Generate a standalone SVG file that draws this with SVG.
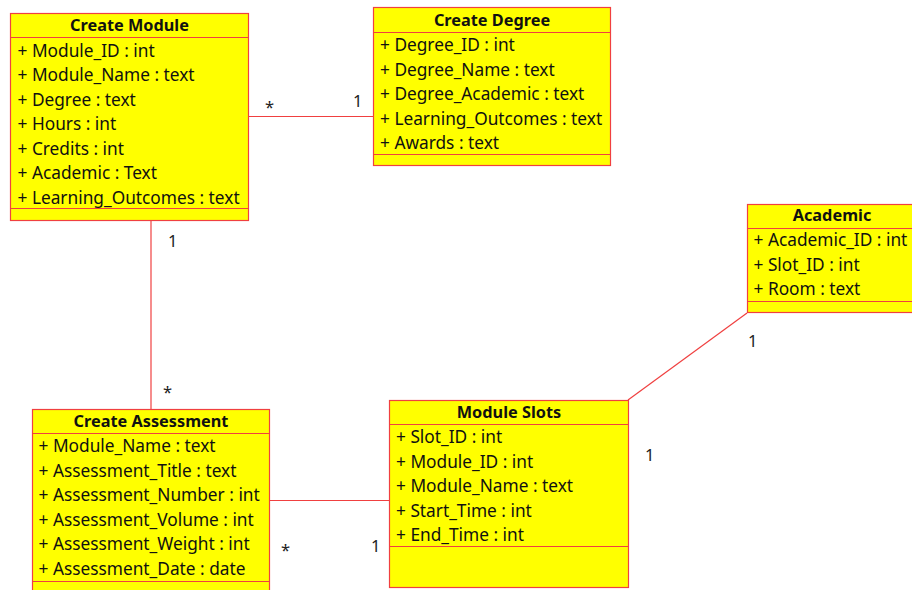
<svg xmlns="http://www.w3.org/2000/svg" width="912" height="590" viewBox="0 0 912 590">
<style>
.box{fill:#ffff00;stroke:#f04040;stroke-width:1.2}
.sep{stroke:#f04040;stroke-width:1.2}
.t{font-family:"Noto Sans","Open Sans",sans-serif;font-size:17.3px;fill:#111}
.h{font-family:"Noto Sans","Open Sans",sans-serif;font-size:16.3px;font-weight:bold;fill:#111;text-anchor:middle}
.c{stroke:#f04040;stroke-width:1.2;fill:none}
.m{font-family:"Noto Sans","Open Sans",sans-serif;font-size:16.5px;fill:#222}
</style>
<rect width="912" height="590" fill="#fff"/>
<g id="connectors">
<line class="c" x1="248" y1="116.5" x2="373" y2="116.5"/>
<line class="c" x1="151" y1="220" x2="151" y2="409"/>
<line class="c" x1="269" y1="500.5" x2="389" y2="500.5"/>
<line class="c" x1="628" y1="400" x2="747" y2="313"/>
<text class="m" x="265" y="113">*</text>
<text class="m" x="353" y="107">1</text>
<text class="m" x="168" y="247">1</text>
<text class="m" x="163" y="398">*</text>
<text class="m" x="281" y="556">*</text>
<text class="m" x="371" y="552">1</text>
<text class="m" x="748" y="347">1</text>
<text class="m" x="645" y="461">1</text>
</g>
<g id="create-module">
<rect class="box" x="10.5" y="13.5" width="238" height="207"/>
<line class="sep" x1="10.5" y1="37.5" x2="248.5" y2="37.5"/>
<line class="sep" x1="10.5" y1="208.5" x2="248.5" y2="208.5"/>
<text class="h" x="129.5" y="31">Create Module</text>
<text class="t" x="17.5" y="56.5">+ Module_ID : int</text>
<text class="t" x="17.5" y="81">+ Module_Name : text</text>
<text class="t" x="17.5" y="105.5">+ Degree : text</text>
<text class="t" x="17.5" y="130">+ Hours : int</text>
<text class="t" x="17.5" y="154.5">+ Credits : int</text>
<text class="t" x="17.5" y="179">+ Academic : Text</text>
<text class="t" x="17.5" y="203.5">+ Learning_Outcomes : text</text>
</g>
<g id="create-degree">
<rect class="box" x="373.5" y="7.5" width="237" height="158"/>
<line class="sep" x1="373.5" y1="32.5" x2="610.5" y2="32.5"/>
<line class="sep" x1="373.5" y1="154.5" x2="610.5" y2="154.5"/>
<text class="h" x="492" y="26">Create Degree</text>
<text class="t" x="380" y="51">+ Degree_ID : int</text>
<text class="t" x="380" y="75.5">+ Degree_Name : text</text>
<text class="t" x="380" y="100">+ Degree_Academic : text</text>
<text class="t" x="380" y="124.5">+ Learning_Outcomes : text</text>
<text class="t" x="380" y="149">+ Awards : text</text>
</g>
<g id="academic">
<rect class="box" x="747.5" y="204.5" width="180" height="108"/>
<line class="sep" x1="747.5" y1="228.5" x2="927.5" y2="228.5"/>
<line class="sep" x1="747.5" y1="301.5" x2="927.5" y2="301.5"/>
<text class="h" x="832" y="221">Academic</text>
<text class="t" x="753.5" y="246">+ Academic_ID : int</text>
<text class="t" x="753.5" y="270.5">+ Slot_ID : int</text>
<text class="t" x="753.5" y="295">+ Room : text</text>
</g>
<g id="create-assessment">
<rect class="box" x="32.5" y="409.5" width="237" height="200"/>
<line class="sep" x1="32.5" y1="433.5" x2="269.5" y2="433.5"/>
<line class="sep" x1="32.5" y1="581.5" x2="269.5" y2="581.5"/>
<text class="h" x="151" y="427">Create Assessment</text>
<text class="t" x="38.5" y="452">+ Module_Name : text</text>
<text class="t" x="38.5" y="476.5">+ Assessment_Title : text</text>
<text class="t" x="38.5" y="501">+ Assessment_Number : int</text>
<text class="t" x="38.5" y="525.5">+ Assessment_Volume : int</text>
<text class="t" x="38.5" y="550">+ Assessment_Weight : int</text>
<text class="t" x="38.5" y="574.5">+ Assessment_Date : date</text>
</g>
<g id="module-slots">
<rect class="box" x="389.5" y="400.5" width="239" height="187"/>
<line class="sep" x1="389.5" y1="424.5" x2="628.5" y2="424.5"/>
<line class="sep" x1="389.5" y1="546.5" x2="628.5" y2="546.5"/>
<text class="h" x="509" y="418">Module Slots</text>
<text class="t" x="396" y="443">+ Slot_ID : int</text>
<text class="t" x="396" y="467.5">+ Module_ID : int</text>
<text class="t" x="396" y="492">+ Module_Name : text</text>
<text class="t" x="396" y="516.5">+ Start_Time : int</text>
<text class="t" x="396" y="541">+ End_Time : int</text>
</g>
</svg>
